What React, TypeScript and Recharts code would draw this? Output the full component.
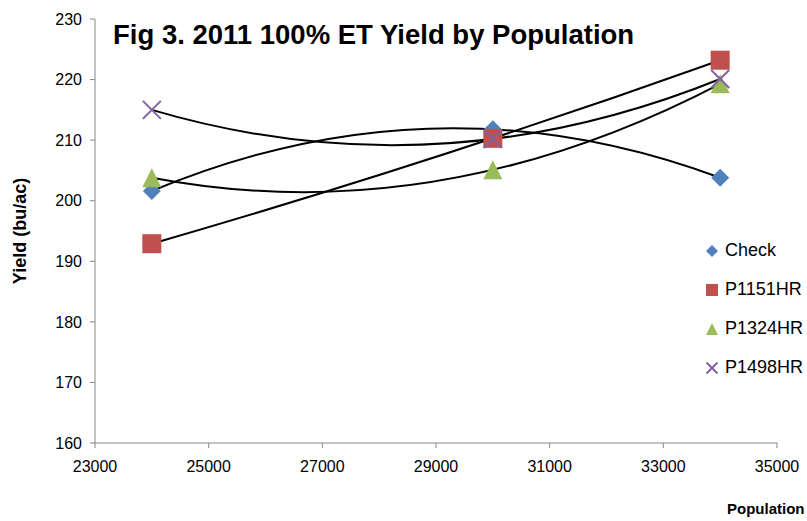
import { ComposedChart, Scatter, Line, XAxis, YAxis, Label } from 'recharts';

const population = [24000, 30000, 34000];
const check = [201.6, 211.8, 203.8];
const p1151hr = [192.9, 210.3, 223.2];
const p1324hr = [203.8, 205.1, 219.3];
const p1498hr = [215.0, 210.2, 220.1];

const xTicks = [23000, 25000, 27000, 29000, 31000, 33000, 35000];
const yTicks = [160, 170, 180, 190, 200, 210, 220, 230];

const FONT = '"Liberation Sans", Arial, sans-serif';

const toRows = (ys: number[]) => population.map((x, i) => ({ x, y: ys[i] }));

type Kind = 'diamond' | 'square' | 'triangle' | 'x';

const series: { name: string; values: number[]; color: string; kind: Kind }[] = [
  { name: 'Check', values: check, color: '#4F81BD', kind: 'diamond' },
  { name: 'P1151HR', values: p1151hr, color: '#C0504D', kind: 'square' },
  { name: 'P1324HR', values: p1324hr, color: '#9BBB59', kind: 'triangle' },
  { name: 'P1498HR', values: p1498hr, color: '#8064A2', kind: 'x' },
];

// curve style for the 2nd-order trend lines: one parabola through the points
// (drawn as a quadratic bezier whose control x is the midpoint of the ends)
function parabolaCurve(ctx: any) {
  let pts: [number, number][] = [];
  return {
    areaStart() {},
    areaEnd() {},
    lineStart() { pts = []; },
    point(x: number, y: number) { pts.push([x, y]); },
    lineEnd() {
      if (pts.length < 3) {
        pts.forEach(([x, y], i) => (i ? ctx.lineTo(x, y) : ctx.moveTo(x, y)));
        return;
      }
      const [p0, p1, p2] = [pts[0], pts[1], pts[pts.length - 1]];
      const t = (p1[0] - p0[0]) / (p2[0] - p0[0]);
      const cy = (p1[1] - (1 - t) * (1 - t) * p0[1] - t * t * p2[1]) / (2 * t * (1 - t));
      ctx.moveTo(p0[0], p0[1]);
      ctx.quadraticCurveTo((p0[0] + p2[0]) / 2, cy, p2[0], p2[1]);
    },
  };
}

function marker(kind: Kind, cx: number, cy: number, s: number, color: string) {
  const h = s / 2;
  if (kind === 'diamond')
    return <polygon points={`${cx},${cy - h} ${cx + h},${cy} ${cx},${cy + h} ${cx - h},${cy}`} fill={color} />;
  if (kind === 'square') return <rect x={cx - h} y={cy - h} width={s} height={s} fill={color} />;
  if (kind === 'triangle')
    return <polygon points={`${cx},${cy - h} ${cx + h},${cy + h} ${cx - h},${cy + h}`} fill={color} />;
  return (
    <g stroke={color} strokeWidth={2}>
      <line x1={cx - h} y1={cy - h} x2={cx + h} y2={cy + h} />
      <line x1={cx - h} y1={cy + h} x2={cx + h} y2={cy - h} />
    </g>
  );
}

const markerSize: Record<Kind, number> = { diamond: 18, square: 19, triangle: 19, x: 18 };
const legendSize: Record<Kind, number> = { diamond: 12, square: 12, triangle: 12, x: 11 };

function LegendBox() {
  return (
    <div style={{ position: 'absolute', left: 703, top: 231, fontSize: 18, color: '#000' }}>
      {series.map(s => (
        <div key={s.name} style={{ display: 'flex', alignItems: 'center', height: 39 }}>
          <svg width={18} height={16} style={{ marginRight: 4 }}>
            {marker(s.kind, 9, 8, legendSize[s.kind], s.color)}
          </svg>
          <span>{s.name}</span>
        </div>
      ))}
    </div>
  );
}

export default function App() {
  return (
    <div
      style={{
        position: 'absolute', left: 0, top: 0, width: 807, height: 521,
        overflow: 'hidden', background: '#fff', fontFamily: FONT,
      }}
    >
      <ComposedChart width={807} height={521} margin={{ top: 19, right: 30, bottom: 0, left: 0 }}>
        <XAxis
          type="number"
          dataKey="x"
          domain={[23000, 35000]}
          ticks={xTicks}
          allowDuplicatedCategory={false}
          height={78}
          tickSize={5}
          tickMargin={13}
          tick={{ fontFamily: FONT, fontSize: 16, fill: '#000' }}
          axisLine={{ stroke: '#868686' }}
          tickLine={{ stroke: '#868686' }}
        />
        <YAxis
          type="number"
          dataKey="y"
          domain={[160, 230]}
          ticks={yTicks}
          width={95}
          tickSize={5}
          tickMargin={8}
          tick={{ fontFamily: FONT, fontSize: 16, fill: '#000' }}
          axisLine={{ stroke: '#868686' }}
          tickLine={{ stroke: '#868686' }}
        >
          <Label
            value="Yield (bu/ac)"
            angle={-90}
            position="insideLeft"
            offset={20}
            style={{ fontFamily: FONT, fontSize: 18, fontWeight: 'bold', fill: '#000', textAnchor: 'middle' }}
          />
        </YAxis>
        {series.map(s => (
          <Scatter
            key={s.name}
            name={s.name}
            data={toRows(s.values)}
            isAnimationActive={false}
            shape={(p: any) => marker(s.kind, p.cx, p.cy, markerSize[s.kind], s.color)}
          />
        ))}
        {series.map(s => (
          <Line
            key={s.name + '-trend'}
            data={toRows(s.values)}
            dataKey="y"
            type={parabolaCurve as any}
            stroke="#000"
            strokeWidth={2}
            dot={false}
            activeDot={false}
            legendType="none"
            isAnimationActive={false}
          />
        ))}
      </ComposedChart>
      <LegendBox />
      <div
        style={{
          position: 'absolute', left: 113, top: 19, fontSize: 27.5, fontWeight: 'bold',
          color: '#000', whiteSpace: 'nowrap',
        }}
      >
        Fig 3. 2011 100% ET Yield by Population
      </div>
      <div
        style={{
          position: 'absolute', left: 727, top: 500, fontSize: 15, fontWeight: 'bold',
          color: '#000', whiteSpace: 'nowrap',
        }}
      >
        Population
      </div>
    </div>
  );
}
